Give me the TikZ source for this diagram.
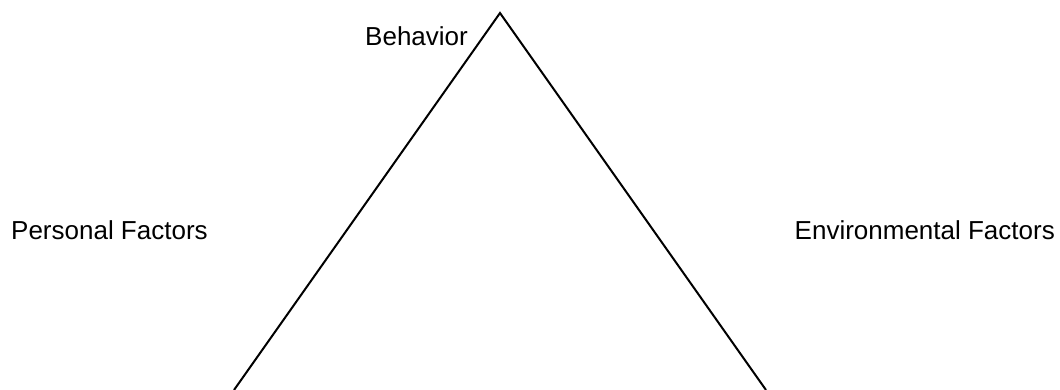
\documentclass[tikz,border=0pt]{standalone}
\usepackage{fontspec}
\setmainfont{Liberation Sans}
\begin{document}
\begin{tikzpicture}[x=1pt,y=-1pt,
  lbl/.style={inner sep=0pt,font=\fontsize{26}{30}\selectfont},
  edge/.style={line width=2pt,black}]
\useasboundingbox (0,0) rectangle (1060,389);
\coordinate (apex) at (500,13);
\coordinate (bl) at (234,390);
\coordinate (br) at (766,390);
\draw[edge] (bl) -- (apex) -- (br);
\node[lbl,anchor=base west] (beh) at (365,45) {Behavior};
\node[lbl,anchor=base west] (pers) at (11,239) {Personal Factors};
\node[lbl,anchor=base east] (env) at (1055,239) {Environmental Factors};
\end{tikzpicture}
\end{document}
